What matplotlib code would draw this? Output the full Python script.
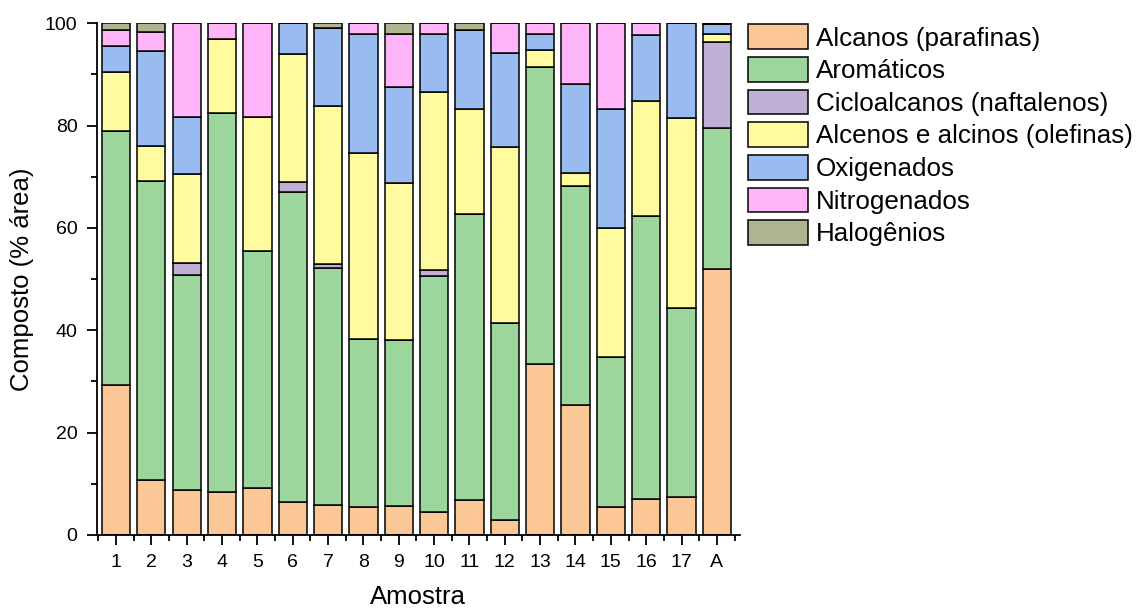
import numpy as np
import matplotlib
matplotlib.use("Agg")
import matplotlib.pyplot as plt
from matplotlib.ticker import MultipleLocator, FixedLocator

plt.rcParams['font.family'] = ['Liberation Sans', 'DejaVu Sans']

# Amostras
amostras = ['1', '2', '3', '4', '5', '6', '7', '8', '9', '10',
            '11', '12', '13', '14', '15', '16', '17', 'A']

# Composição (% área) por classe
alcanos = [29.4, 10.8, 8.7, 8.3, 9.1, 6.4, 5.9, 5.5, 5.7, 4.4,
           6.9, 2.9, 33.4, 25.3, 5.5, 7.1, 7.4, 51.9]
aromaticos = [49.6, 58.4, 42.1, 74.1, 46.3, 60.7, 46.2, 32.8, 32.4, 46.2,
              55.9, 38.5, 58.0, 42.9, 29.3, 55.3, 36.9, 27.6]
cicloalcanos = [0, 0, 2.3, 0, 0, 1.8, 0.8, 0, 0, 1.1,
                0, 0, 0, 0, 0, 0, 0, 16.9]
alcenos = [11.5, 6.8, 17.4, 14.5, 26.3, 25.0, 30.9, 36.3, 30.6, 34.9,
           20.4, 34.5, 3.4, 2.6, 25.1, 22.3, 37.2, 1.4]
oxigenados = [5.1, 18.6, 11.1, 0, 0, 6.1, 15.3, 23.3, 18.9, 11.3,
              15.5, 18.2, 3.0, 17.4, 23.3, 13.0, 18.5, 2.0]
nitrogenados = [3.0, 3.7, 18.4, 3.1, 18.3, 0, 0, 2.1, 10.3, 2.1,
                0, 5.9, 2.2, 11.8, 16.8, 2.3, 0, 0]
halogenios = [1.4, 1.7, 0, 0, 0, 0, 0.9, 0, 2.1, 0,
              1.3, 0, 0, 0, 0, 0, 0, 0.2]

series = [
    ('Alcanos (parafinas)', alcanos, '#FBC797'),
    ('Aromáticos', aromaticos, '#9DD69C'),
    ('Cicloalcanos (naftalenos)', cicloalcanos, '#C0B0D5'),
    ('Alcenos e alcinos (olefinas)', alcenos, '#FFFB9E'),
    ('Oxigenados', oxigenados, '#99BBF0'),
    ('Nitrogenados', nitrogenados, '#FFB6F8'),
    ('Halogênios', halogenios, '#B0B490'),
]

fig = plt.figure(figsize=(11.4, 6.1), dpi=100)
ax = fig.add_axes([0.085, 0.123, 0.564, 0.839])

x = np.arange(1, len(amostras) + 1)
bottom = np.zeros(len(amostras))
for nome, vals, cor in series:
    vals = np.array(vals, dtype=float)
    ax.bar(x, vals, width=0.8, bottom=bottom, color=cor,
           edgecolor='black', linewidth=1.1, label=nome)
    bottom += vals

ax.set_xlim(0.46, 18.65)
ax.set_ylim(0, 100)
ax.set_xticks(x)
ax.set_xticklabels(amostras)
ax.xaxis.set_minor_locator(FixedLocator(np.arange(0.5, 19, 1)))
ax.yaxis.set_major_locator(MultipleLocator(20))
ax.yaxis.set_minor_locator(MultipleLocator(10))

for s in ['top', 'right']:
    ax.spines[s].set_visible(False)
for s in ['left', 'bottom']:
    ax.spines[s].set_linewidth(1.3)

ax.tick_params(axis='both', which='major', direction='out', length=7,
               width=1.3, labelsize=14, pad=7)
ax.tick_params(axis='both', which='minor', direction='out', length=4,
               width=1.3)

ax.set_xlabel('Amostra', fontsize=18.5, labelpad=10)
ax.set_ylabel('Composto (% área)', fontsize=18.5, labelpad=8)

fig.legend(loc='upper left', bbox_to_anchor=(0.656, 0.96), frameon=False,
           fontsize=18.7, handlelength=2.31, handleheight=1.08,
           handletextpad=0.3, labelspacing=0.25, borderaxespad=0,
           borderpad=0)

fig.savefig('out.png', dpi=100)
